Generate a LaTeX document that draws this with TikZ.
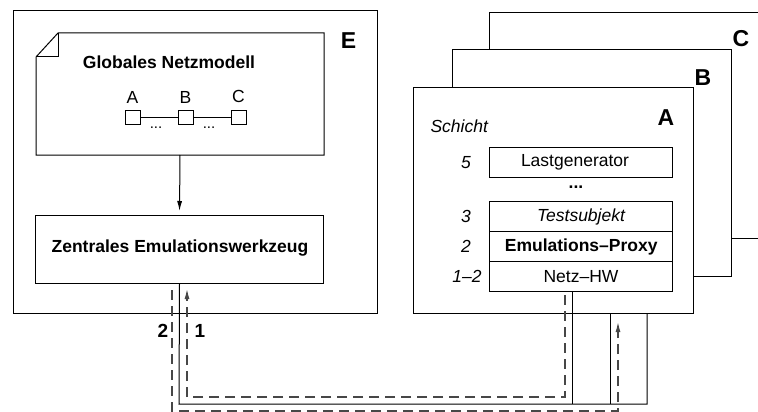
\documentclass[tikz,border=0pt]{standalone}
\usepackage{fontspec}
\setmainfont{Liberation Sans}
\usetikzlibrary{arrows.meta}
\begin{document}
\begin{tikzpicture}[x=1pt,y=-1pt,line width=1pt,
  txt/.style={font=\fontsize{17.5}{21}\selectfont,inner sep=0pt},
  bigtxt/.style={font=\fontsize{23}{27}\selectfont\bfseries,inner sep=0pt},
  frame/.style={draw,fill=white,anchor=north west,inner sep=0pt},
  layer/.style={draw,fill=white,anchor=north west,minimum width=183pt,minimum height=30pt,inner sep=0pt,font=\fontsize{17.5}{21}\selectfont},
  port/.style={draw,fill=white,minimum width=15pt,minimum height=14pt,inner sep=0pt},
  flow/.style={draw=black!72,line width=1.2pt,dash pattern=on 10pt off 6pt},
  tip/.style={-{Latex[length=10pt,width=5pt]}}]
\useasboundingbox (0,0) rectangle (758,412);
\clip (0,0) rectangle (758,412);

% host E with the central tool
\node[frame,minimum width=364pt,minimum height=303pt] (E) at (13,10) {};
\node[bigtxt] (Elbl) at (348.5,41) {E};

% global network model (note with folded corner)
\node[anchor=north west,minimum width=287pt,minimum height=121pt,inner sep=0pt] (gnm) at (36,33) {};
\draw (36,57) -- (58,33) -- (gnm.north east) -- (gnm.south east) -- (gnm.south west) -- cycle;
\draw (36,57) -- (58,57) -- (58,33);
\node[txt,font=\fontsize{17.5}{21}\selectfont\bfseries] (gnmlbl) at (169,62) {Globales Netzmodell};
\node[port,label={[txt,yshift=6pt]above:A}] (nA) at (132.5,117) {};
\node[port,label={[txt,yshift=6pt]above:B}] (nB) at (185.5,117) {};
\node[port,label={[txt,yshift=6pt]above:C}] (nC) at (238.5,117) {};
\draw (nA) -- (nB);
\draw (nB) -- (nC);
\node[txt,font=\fontsize{15}{17}\selectfont] (dAB) at (156,128) {...};
\node[txt,font=\fontsize{15}{17}\selectfont] (dBC) at (209,128) {...};

\node[frame,minimum width=288pt,minimum height=68pt] (zew) at (35,215) {};
\node[txt,font=\fontsize{17.5}{21}\selectfont\bfseries] (zewlbl) at (180,248) {Zentrales Emulationswerkzeug};
\draw[tip,shorten >=4pt] (gnm.south) -- (zew.north);

% hosts C, B, A stacked
\node[frame,minimum width=320pt,minimum height=226pt] (C) at (489,12) {};
\node[bigtxt] (Clbl) at (741,39) {C};
\node[frame,minimum width=279pt,minimum height=227pt] (B) at (452,49) {};
\node[bigtxt] (Blbl) at (703,77.5) {B};
\node[frame,minimum width=280pt,minimum height=226pt] (A) at (413,87) {};
\node[bigtxt] (Albl) at (666,117.5) {A};

\node[txt,font=\fontsize{17.5}{21}\selectfont\itshape,anchor=west] (schicht) at (430,126) {Schicht};
\node[layer] (lg) at (489,147) {\hspace*{-12pt}Lastgenerator};
\node[txt,font=\fontsize{17.5}{21}\selectfont\bfseries] (ldots) at (576,187) {...};
\node[layer] (ts) at (489,201) {\itshape Testsubjekt};
\node[layer] (hw) at (489,261) {Netz–HW};
\node[layer,line width=1.4pt] (ep) at (489,231) {\bfseries Emulations–Proxy};
\node[txt,font=\fontsize{17.5}{21}\selectfont\itshape] (n5) at (466,163) {5};
\node[txt,font=\fontsize{17.5}{21}\selectfont\itshape] (n3) at (466,216) {3};
\node[txt,font=\fontsize{17.5}{21}\selectfont\itshape] (n2) at (466,246) {2};
\node[txt,font=\fontsize{17.5}{21}\selectfont\itshape] (n12) at (467,276) {1–2};

% physical network
\coordinate (hwA) at (572,291);
\coordinate (hwB) at (610,313);
\coordinate (hwC) at (647,313);
\coordinate (busL) at (179,404);
\coordinate (busR) at (647,404);
\draw (zew.south) -- (busL) -- (busR) -- (hwC);
\draw (hwA) -- (hwA |- busL);
\draw (hwB) -- (hwB |- busL);

% message flows
\coordinate (f1a) at (565,295);
\coordinate (f1b) at (187,289);
\draw[flow,tip] (f1a) -- (565,397) -- (187,397) -- (f1b);
\coordinate (f2a) at (172,290);
\coordinate (f2b) at (618,322);
\draw[flow,tip] (f2a) -- (172,411) -- (618,411) -- (f2b);
\node[txt,font=\fontsize{19}{22}\selectfont\bfseries] (l2) at (163,331) {2};
\node[txt,font=\fontsize{19}{22}\selectfont\bfseries] (l1) at (200,331) {1};
\end{tikzpicture}
\end{document}
